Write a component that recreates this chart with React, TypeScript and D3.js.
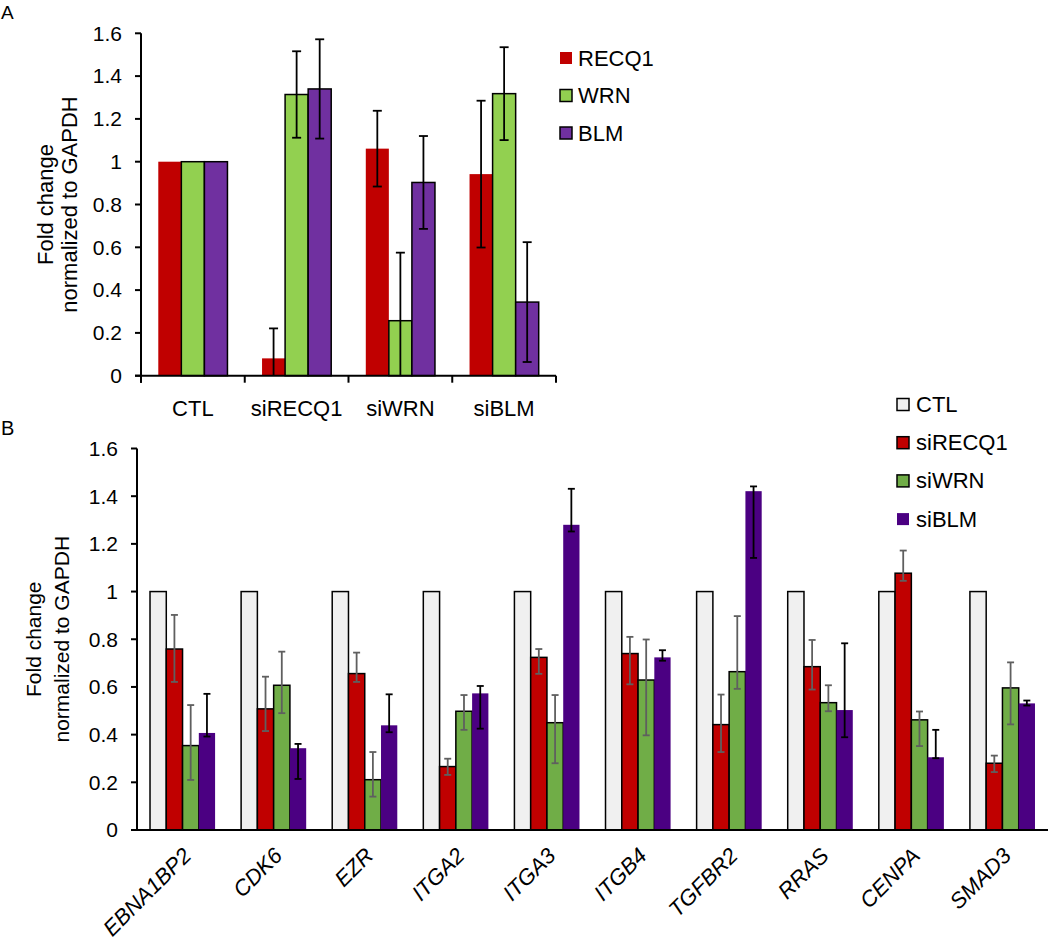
import React from "react";
import * as d3 from "d3";

// ---------- Panel A data ----------
const groupsA = ["CTL", "siRECQ1", "siWRN", "siBLM"];
const seriesA = ["RECQ1", "WRN", "BLM"];
const recq1A = [1, 0.081, 1.061, 0.942];
const recq1ErrA = [0, 0.14, 0.177, 0.343];
const wrnA = [1, 1.314, 0.257, 1.318];
const wrnErrA = [0, 0.202, 0.318, 0.217];
const blmA = [1, 1.34, 0.903, 0.344];
const blmErrA = [0, 0.232, 0.217, 0.28];
const ticksA = [0, 0.2, 0.4, 0.6, 0.8, 1, 1.2, 1.4, 1.6];

// ---------- Panel B data ----------
const genesB = ["EBNA1BP2", "CDK6", "EZR", "ITGA2", "ITGA3", "ITGB4", "TGFBR2", "RRAS", "CENPA", "SMAD3"];
const seriesB = ["CTL", "siRECQ1", "siWRN", "siBLM"];
const ctlB = [1, 1, 1, 1, 1, 1, 1, 1, 1, 1];
const recq1B = [0.759, 0.508, 0.656, 0.266, 0.724, 0.74, 0.442, 0.685, 1.077, 0.28];
const recq1LoB = [0.621, 0.415, 0.621, 0.231, 0.655, 0.611, 0.327, 0.589, 1.045, 0.243];
const recq1HiB = [0.902, 0.643, 0.744, 0.299, 0.759, 0.81, 0.568, 0.797, 1.172, 0.312];
const wrnB = [0.354, 0.607, 0.211, 0.498, 0.45, 0.629, 0.664, 0.534, 0.462, 0.596];
const wrnLoB = [0.21, 0.49, 0.14, 0.42, 0.28, 0.397, 0.592, 0.498, 0.352, 0.443];
const wrnHiB = [0.524, 0.748, 0.327, 0.566, 0.566, 0.799, 0.897, 0.607, 0.497, 0.703];
const blmB = [0.407, 0.343, 0.439, 0.573, 1.28, 0.724, 1.421, 0.503, 0.305, 0.531];
const blmLoB = [0.392, 0.214, 0.41, 0.425, 1.252, 0.71, 1.141, 0.389, 0.301, 0.522];
const blmHiB = [0.571, 0.361, 0.569, 0.604, 1.431, 0.754, 1.441, 0.783, 0.42, 0.543];
const ticksB = [0, 0.2, 0.4, 0.6, 0.8, 1, 1.2, 1.4, 1.6];

const FONT = "'Liberation Sans', Arial, Helvetica, sans-serif";
const fmt = (d: number) => String(+d.toFixed(1));

export default function App() {
  // ----- Panel A scales -----
  const xA = d3.scaleBand<string>().domain(groupsA).range([141, 556]);
  const xAi = d3.scaleBand<string>().domain(seriesA).range([0, xA.bandwidth()]).paddingOuter(0.75);
  const yA = d3.scaleLinear().domain([0, 1.6]).range([375.7, 33.3]);
  const colorsA = ["#C00000", "#92D050", "#7030A0"];
  const strokesA = ["none", "#000", "#000"];
  const valsA = [recq1A, wrnA, blmA];
  const errsA = [recq1ErrA, wrnErrA, blmErrA];

  // ----- Panel B scales -----
  const xB = d3.scaleBand<string>().domain(genesB).range([137, 1048]);
  const xBi = d3.scaleBand<string>().domain(seriesB).range([0, xB.bandwidth()]).paddingOuter(0.8);
  const yB = d3.scaleLinear().domain([0, 1.6]).range([830, 448.5]);
  const colorsB = ["#F0F0F0", "#C00000", "#70AD47", "#4B0082"];
  const strokesB = ["#000", "#000", "#000", "none"];
  const errColorB = [null, "#5F5F5F", "#5F5F5F", "#000"];
  const valsB = [ctlB, recq1B, wrnB, blmB];
  const loB = [null, recq1LoB, wrnLoB, blmLoB];
  const hiB = [null, recq1HiB, wrnHiB, blmHiB];

  const errBar = (cx: number, lo: number, hi: number, y: d3.ScaleLinear<number, number>, color: string, cap: number, key: string) => {
    const yLo = y(Math.max(0, lo));
    const yHi = y(hi);
    return (
      <g key={key} stroke={color} strokeWidth={1.8}>
        <line x1={cx} x2={cx} y1={yHi} y2={yLo} />
        <line x1={cx - cap} x2={cx + cap} y1={yHi} y2={yHi} />
        {lo >= 0 && <line x1={cx - cap} x2={cx + cap} y1={yLo} y2={yLo} />}
      </g>
    );
  };

  return (
    <div style={{ position: "absolute", left: 0, top: 0 }}>
      <svg width={1050} height={944} style={{ display: "block", background: "#fff" }} fontFamily={FONT}>
        {/* ================= Panel A ================= */}
        <text x={1} y={19} fontSize={19}>A</text>
        {groupsA.map((g, gi) =>
          seriesA.map((s, si) => {
            const x0 = (xA(g) as number) + (xAi(s) as number);
            const v = valsA[si][gi];
            return (
              <rect key={`a-${g}-${s}`} x={x0} y={yA(v)} width={xAi.bandwidth()} height={yA(0) - yA(v)}
                fill={colorsA[si]} stroke={strokesA[si]} strokeWidth={1.5} />
            );
          })
        )}
        {groupsA.map((g, gi) =>
          seriesA.map((s, si) => {
            const e = errsA[si][gi];
            if (!e) return null;
            const cx = (xA(g) as number) + (xAi(s) as number) + xAi.bandwidth() / 2;
            const v = valsA[si][gi];
            return errBar(cx, v - e, v + e, yA, "#000", 4.5, `ae-${g}-${s}`);
          })
        )}
        <g stroke="#000" strokeWidth={2}>
          <line x1={141} x2={141} y1={yA(1.6)} y2={yA(0) + 7} />
          <line x1={135} x2={556} y1={yA(0)} y2={yA(0)} />
          {ticksA.map((t) => (
            <line key={`at-${t}`} x1={135} x2={141} y1={yA(t)} y2={yA(t)} />
          ))}
          {[...groupsA.map((g) => xA(g) as number), 556].map((x, i) => (
            <line key={`axt-${i}`} x1={x} x2={x} y1={yA(0)} y2={yA(0) + 7} />
          ))}
        </g>
        {ticksA.map((t) => (
          <text key={`atl-${t}`} x={122} y={yA(t)} dy="0.35em" textAnchor="end" fontSize={21}>{fmt(t)}</text>
        ))}
        {groupsA.map((g) => (
          <text key={`axl-${g}`} x={(xA(g) as number) + xA.bandwidth() / 2} y={416} textAnchor="middle" fontSize={22}>{g}</text>
        ))}
        <g transform={`translate(0, ${(yA(0) + yA(1.6)) / 2}) rotate(-90)`} fontSize={22} textAnchor="middle">
          <text x={0} y={53}>Fold change</text>
          <text x={0} y={77}>normalized to GAPDH</text>
        </g>
        {seriesA.map((s, i) => (
          <g key={`al-${s}`} transform={`translate(560, ${52 + i * 37.5})`}>
            <rect x={0} y={0} width={12} height={12} fill={colorsA[i]} stroke={strokesA[i]} strokeWidth={1.5} />
            <text x={18} y={13.5} fontSize={22}>{s}</text>
          </g>
        ))}

        {/* ================= Panel B ================= */}
        <text x={1} y={435} fontSize={20}>B</text>
        {genesB.map((g, gi) =>
          seriesB.map((s, si) => {
            const x0 = (xB(g) as number) + (xBi(s) as number);
            const v = valsB[si][gi];
            return (
              <rect key={`b-${g}-${s}`} x={x0} y={yB(v)} width={xBi.bandwidth()} height={yB(0) - yB(v)}
                fill={colorsB[si]} stroke={strokesB[si]} strokeWidth={1.5} />
            );
          })
        )}
        {genesB.map((g, gi) =>
          seriesB.map((s, si) => {
            const lo = loB[si];
            const hi = hiB[si];
            if (!lo || !hi) return null;
            const cx = (xB(g) as number) + (xBi(s) as number) + xBi.bandwidth() / 2;
            return errBar(cx, lo[gi], hi[gi], yB, errColorB[si] as string, 3.5, `be-${g}-${s}`);
          })
        )}
        <g stroke="#000" strokeWidth={2}>
          <line x1={137} x2={137} y1={yB(1.6)} y2={yB(0)} />
          <line x1={131} x2={1048} y1={yB(0)} y2={yB(0)} />
          {ticksB.map((t) => (
            <line key={`bt-${t}`} x1={131} x2={137} y1={yB(t)} y2={yB(t)} />
          ))}
        </g>
        {ticksB.map((t) => (
          <text key={`btl-${t}`} x={118} y={yB(t)} dy="0.35em" textAnchor="end" fontSize={21}>{fmt(t)}</text>
        ))}
        {genesB.map((g) => {
          const cx = (xB(g) as number) + xB.bandwidth() / 2 + 10;
          return (
            <text key={`bxl-${g}`} transform={`translate(${cx}, 857) rotate(-45)`} textAnchor="end" fontSize={22} fontStyle="italic">{g}</text>
          );
        })}
        <g transform={`translate(0, ${(yB(0) + yB(1.6)) / 2}) rotate(-90)`} fontSize={21} textAnchor="middle">
          <text x={0} y={41}>Fold change</text>
          <text x={0} y={69}>normalized to GAPDH</text>
        </g>
        {seriesB.map((s, i) => (
          <g key={`bl-${s}`} transform={`translate(897, ${398.5 + i * 38.2})`}>
            <rect x={0} y={0} width={12} height={12} fill={colorsB[i]} stroke={strokesB[i]} strokeWidth={1.5} />
            <text x={19} y={13.5} fontSize={22}>{s}</text>
          </g>
        ))}
      </svg>
    </div>
  );
}
